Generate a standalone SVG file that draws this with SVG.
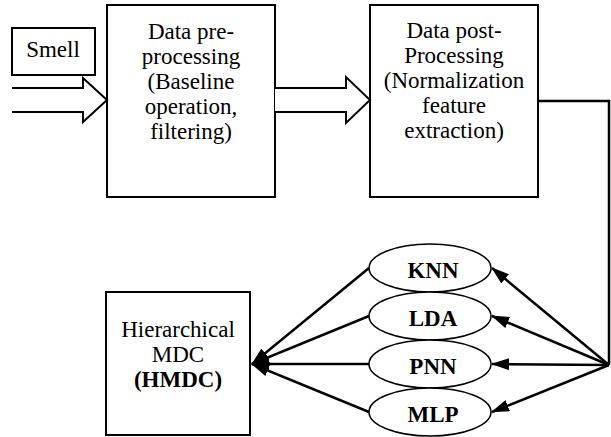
<svg xmlns="http://www.w3.org/2000/svg" width="611" height="437" viewBox="0 0 611 437">
<style>
.box{fill:#fff;stroke:#000;stroke-width:2}
.t{font-family:'Liberation Serif','DejaVu Serif',serif;font-size:23px;fill:#000;text-anchor:middle}
.b{font-weight:bold}
.ell{fill:#fff;stroke:#000;stroke-width:1.5}
.hollow{fill:#fff;stroke:#000;stroke-width:2;stroke-linejoin:miter}
.ln{fill:none;stroke:#000;stroke-width:2.5}
</style>
<defs>
<marker id="ah" viewBox="0 0 18 12" refX="17" refY="6" markerWidth="18" markerHeight="12" markerUnits="userSpaceOnUse" orient="auto">
<path d="M0,0 L18,6 L0,12 z" fill="#000"/>
</marker>
</defs>
<rect width="611" height="437" fill="#fff"/>

<g id="smell" font-family="Liberation Serif, DejaVu Serif, serif">
<rect class="box" x="12" y="28" width="83" height="47"/>
<text class="t" x="53" y="57">Smell</text>
</g>

<g id="preprocessing" font-family="Liberation Serif, DejaVu Serif, serif">
<rect class="box" x="107" y="5" width="168" height="192"/>
<text class="t" x="191" y="39">Data pre-</text>
<text class="t" x="191" y="64">processing</text>
<text class="t" x="191" y="89">(Baseline</text>
<text class="t" x="191" y="114">operation,</text>
<text class="t" x="191" y="139">filtering)</text>
</g>

<g id="postprocessing" font-family="Liberation Serif, DejaVu Serif, serif">
<rect class="box" x="370" y="5" width="168" height="192"/>
<text class="t" x="454" y="38">Data post-</text>
<text class="t" x="454" y="63">Processing</text>
<text class="t" x="454" y="88">(Normalization</text>
<text class="t" x="454" y="113">feature</text>
<text class="t" x="454" y="138">extraction)</text>
</g>

<g id="hmdc" font-family="Liberation Serif, DejaVu Serif, serif">
<rect class="box" x="106" y="292" width="144" height="143"/>
<text class="t" x="178" y="337">Hierarchical</text>
<text class="t" x="178" y="362">MDC</text>
<text class="t b" x="178" y="387">(HMDC)</text>
</g>

<g id="knn" font-family="Liberation Serif, DejaVu Serif, serif">
<ellipse class="ell" cx="430" cy="268" rx="61" ry="24"/>
<text class="t b" x="433" y="278">KNN</text>
</g>
<g id="lda" font-family="Liberation Serif, DejaVu Serif, serif">
<ellipse class="ell" cx="430" cy="316" rx="61" ry="24"/>
<text class="t b" x="433" y="326">LDA</text>
</g>
<g id="pnn" font-family="Liberation Serif, DejaVu Serif, serif">
<ellipse class="ell" cx="430" cy="364" rx="61" ry="24"/>
<text class="t b" x="433" y="374">PNN</text>
</g>
<g id="mlp" font-family="Liberation Serif, DejaVu Serif, serif">
<ellipse class="ell" cx="430" cy="412" rx="61" ry="24"/>
<text class="t b" x="433" y="422">MLP</text>
</g>

<g id="connectors">
<path class="hollow" d="M12,88 L83,88 L83,78 L107,100 L83,122 L83,112 L12,112"/>
<path class="hollow" d="M275,88 L346,88 L346,77 L370,100 L346,123 L346,112 L275,112"/>
<path class="ln" d="M538,101 L609,101 L609,365"/>
<line class="ln" x1="609" y1="365" x2="492" y2="268" marker-end="url(#ah)"/>
<line class="ln" x1="609" y1="365" x2="492" y2="316" marker-end="url(#ah)"/>
<line class="ln" x1="609" y1="365" x2="492" y2="364" marker-end="url(#ah)"/>
<line class="ln" x1="609" y1="365" x2="492" y2="412" marker-end="url(#ah)"/>
<line class="ln" x1="369" y1="268" x2="252" y2="364" marker-end="url(#ah)"/>
<line class="ln" x1="369" y1="316" x2="252" y2="364" marker-end="url(#ah)"/>
<line class="ln" x1="369" y1="364" x2="252" y2="364" marker-end="url(#ah)"/>
<line class="ln" x1="369" y1="412" x2="252" y2="364" marker-end="url(#ah)"/>
</g>
</svg>
